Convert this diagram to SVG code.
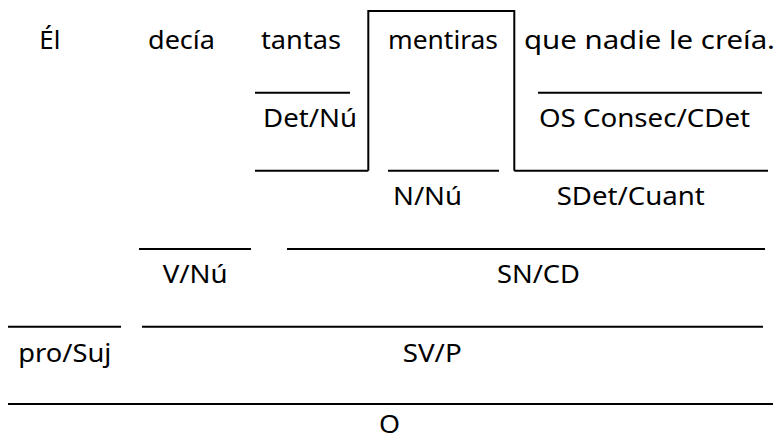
<svg xmlns="http://www.w3.org/2000/svg" width="777" height="442" viewBox="0 0 777 442">
<style>
.t{font-family:"Noto Sans","Open Sans","Liberation Sans",sans-serif;font-size:26px;fill:#000}
.l{stroke:#000;stroke-width:2;fill:none}
</style>
<rect width="777" height="442" fill="#fff"/>
<g id="words">
<g id="w-el"><text class="t" x="39.3" y="49" textLength="21" lengthAdjust="spacingAndGlyphs">Él</text></g>
<g id="w-decia"><text class="t" x="148" y="49" textLength="67" lengthAdjust="spacingAndGlyphs">decía</text></g>
<g id="w-tantas"><text class="t" x="261" y="49" textLength="80" lengthAdjust="spacingAndGlyphs">tantas</text></g>
<g id="w-mentiras"><text class="t" x="388" y="49" textLength="110" lengthAdjust="spacingAndGlyphs">mentiras</text></g>
<g id="w-que"><text class="t" x="524" y="49" textLength="251" lengthAdjust="spacingAndGlyphs">que nadie le creía.</text></g>
</g>
<g id="n-detnu"><text class="t" x="263" y="127" textLength="94" lengthAdjust="spacingAndGlyphs">Det/Nú</text></g>
<g id="n-os"><text class="t" x="539" y="126.5" textLength="211" lengthAdjust="spacingAndGlyphs">OS Consec/CDet</text></g>
<g id="n-nnu"><text class="t" x="393" y="205" textLength="69" lengthAdjust="spacingAndGlyphs">N/Nú</text></g>
<g id="n-sdet"><text class="t" x="556.7" y="205" textLength="148" lengthAdjust="spacingAndGlyphs">SDet/Cuant</text></g>
<g id="n-vnu"><text class="t" x="162.7" y="283.3" textLength="65" lengthAdjust="spacingAndGlyphs">V/Nú</text></g>
<g id="n-sncd"><text class="t" x="497" y="283.3" textLength="83" lengthAdjust="spacingAndGlyphs">SN/CD</text></g>
<g id="n-prosuj"><text class="t" x="18.3" y="362.3" textLength="93" lengthAdjust="spacingAndGlyphs">pro/Suj</text></g>
<g id="n-svp"><text class="t" x="402.7" y="362.3" textLength="59" lengthAdjust="spacingAndGlyphs">SV/P</text></g>
<g id="n-o"><text class="t" x="379" y="433.3" textLength="21" lengthAdjust="spacingAndGlyphs">O</text></g>
<g id="connectors">
<path class="l" d="M368.3 170.7V11H514.3V170.7"/>
<line class="l" x1="255" y1="92.7" x2="350" y2="92.7"/>
<line class="l" x1="538" y1="92.7" x2="762" y2="92.7"/>
<line class="l" x1="255" y1="170.7" x2="368.3" y2="170.7"/>
<line class="l" x1="388" y1="170.7" x2="499" y2="170.7"/>
<line class="l" x1="514.3" y1="170.7" x2="768" y2="170.7"/>
<line class="l" x1="139" y1="249" x2="251" y2="249"/>
<line class="l" x1="287" y1="249" x2="765" y2="249"/>
<line class="l" x1="8" y1="326.7" x2="121" y2="326.7"/>
<line class="l" x1="142" y1="326.7" x2="763" y2="326.7"/>
<line class="l" x1="8" y1="404" x2="773" y2="404"/>
</g>
</svg>
